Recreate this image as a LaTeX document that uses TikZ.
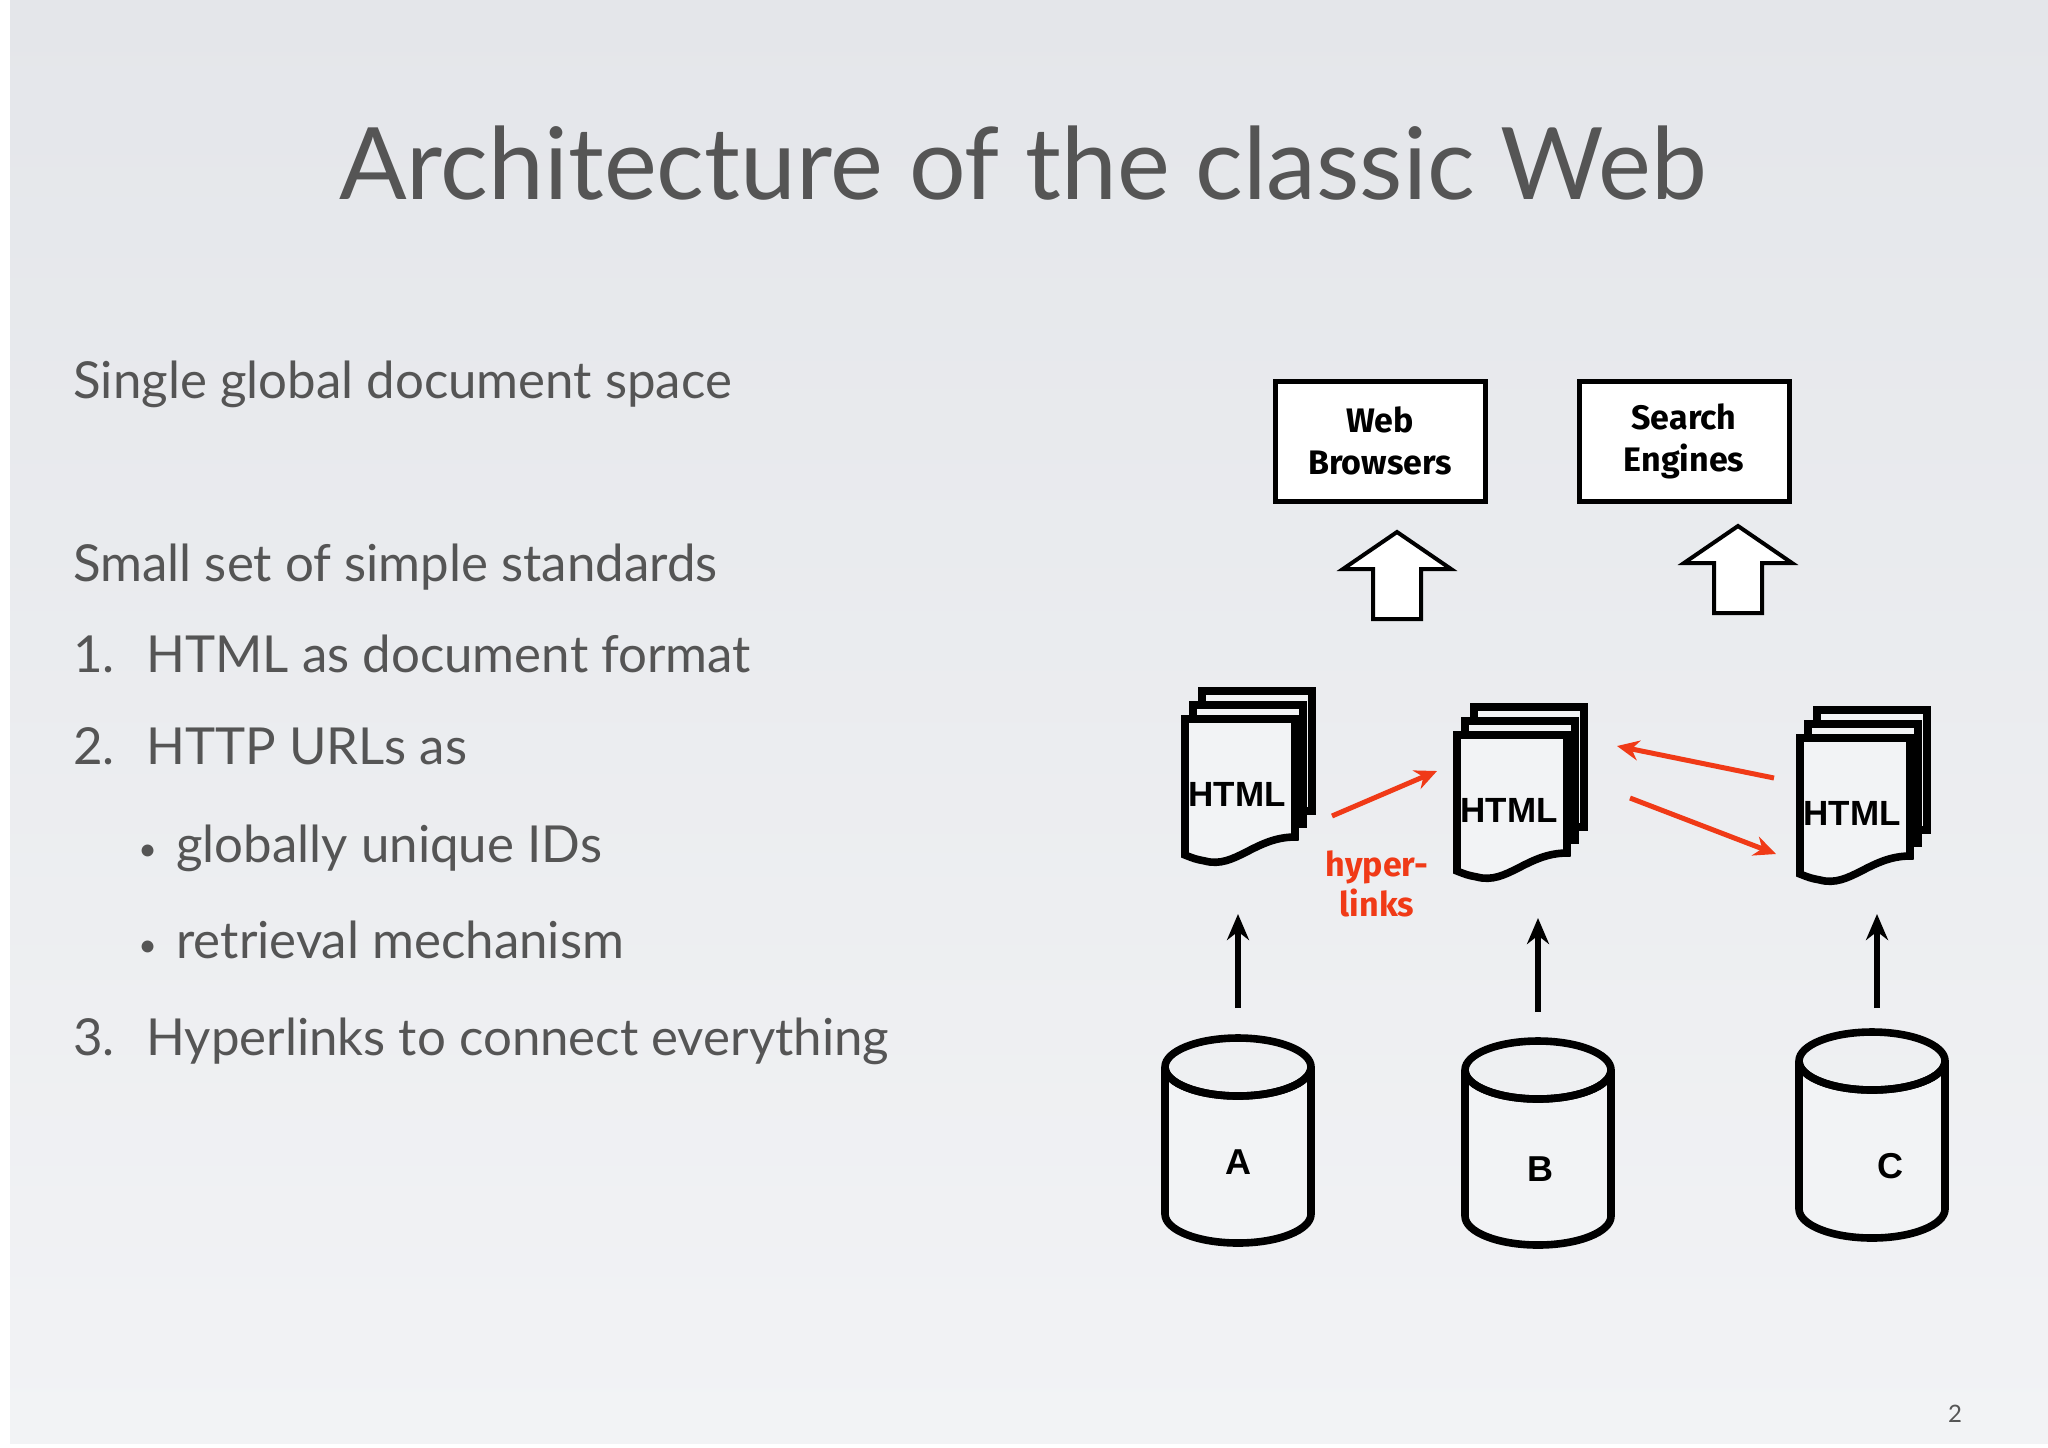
\documentclass[tikz,border=0pt]{standalone}
\usepackage{fontspec}
\setmainfont{Lato}
\newfontfamily\arialf{Liberation Sans}
\newfontfamily\boxf{Fira Sans}
\usetikzlibrary{shapes.geometric,arrows.meta}
\definecolor{bgA}{HTML}{E4E6EA}
\definecolor{bgB}{HTML}{F2F3F5}
\definecolor{txt}{HTML}{555555}
\definecolor{hl}{HTML}{F03A17}
\begin{document}
\begin{tikzpicture}[x=0.5pt,y=-0.5pt,
  body/.style={anchor=base west,text=txt,font=\fontsize{25.5}{28}\selectfont,inner sep=0},
  bul/.style={anchor=base west,text=txt,font=\fontsize{16}{28}\selectfont,inner sep=0},
  bx/.style={draw,line width=2.5pt,fill=white,minimum width=105pt,minimum height=60pt,align=center,font=\boxf\bfseries\fontsize{17}{21}\selectfont},
  page/.style={draw,line width=3.8pt,fill=bgB},
  cylp/.style={draw,line width=3.8pt,fill=bgB},
  blk/.style={-{Stealth[length=13pt,width=11pt]},line width=3pt},
  red/.style={-{Stealth[length=11pt,width=10pt]},line width=2.5pt,hl},
  barrow/.style={draw,line width=2pt,fill=white}]
\useasboundingbox (0,0) rectangle (2048,1447);
\fill[white] (0,0) rectangle (2048,1447);
\shade[top color=bgA,bottom color=bgB] (10,0) rectangle (2048,1443);
% title
\node[text=txt,font=\fontsize{50}{56}\selectfont] (title) at (1023,163) {Architecture of the classic Web};
% body
\node[body] (l1) at (73,398) {Single global document space};
\node[body] (l2) at (73,581) {Small set of simple standards};
\node[body] (n3) at (73,672) {1.};
\node[body] (l3) at (146,672) {HTML as document format};
\node[body] (n4) at (73,764) {2.};
\node[body] (l4) at (146,764) {HTTP URLs as};
\node[bul] (b5) at (138,860) {\textbullet};
\node[body] (l5) at (176,862) {globally unique IDs};
\node[bul] (b6) at (138,956) {\textbullet};
\node[body] (l6) at (176,958) {retrieval mechanism};
\node[body] (n7) at (73,1055) {3.};
\node[body] (l7) at (146,1055) {Hyperlinks to connect everything};
\node[text=txt,font=\fontsize{12}{14}\selectfont] (pg) at (1955,1414) {2};
% boxes
\node[bx] (wb) at (1380,441) {Web\\Browsers};
\node[bx] (se) at (1684,441) {Search\\Engines};
% block arrows
\foreach \cx/\ty in {1397/532,1738/526}{
  \draw[barrow] (\cx-24,\ty+87) -- (\cx-24,\ty+37) -- (\cx-54,\ty+37) -- (\cx,\ty) -- (\cx+54,\ty+37) -- (\cx+24,\ty+37) -- (\cx+24,\ty+87) -- cycle;
}
% docs
\foreach \x/\y/\n in {1185/719/d1,1457/735/d2,1800/738/d3}{
  \draw[page] (\x+17,\y-28) rectangle (\x+127,\y+92);
  \draw[page] (\x+8,\y-14) rectangle (\x+118,\y+105);
  \draw[page] (\x,\y) -- (\x+110,\y) -- (\x+110,\y+118)
     .. controls (\x+70,\y+118) and (\x+50,\y+150) .. (\x+20,\y+142)
     .. controls (\x+10,\y+140) .. (\x,\y+136) -- cycle;
  \node[anchor=west,inner sep=0,font=\arialf\bfseries\fontsize{17.5}{18}\selectfont] (\n) at (\x+3,\y+75) {HTML};
}
% cylinders
\foreach \cx/\t/\b in {1238/1038/1243,1538/1041/1245,1872/1032/1238}{
  \draw[cylp] (\cx-73,\t+29) -- (\cx-73,\b-29) arc[start angle=180,end angle=360,x radius=73,y radius=-29] -- (\cx+73,\t+29) arc[start angle=0,end angle=180,x radius=73,y radius=29] -- cycle;
  \draw[cylp,fill=none] (\cx,\t+29) ellipse[x radius=73,y radius=29];
}
\node[font=\arialf\bfseries\fontsize{18}{20}\selectfont] (A) at (1238,1162) {A};
\node[font=\arialf\bfseries\fontsize{18}{20}\selectfont] (B) at (1540,1169) {B};
\node[font=\arialf\bfseries\fontsize{18}{20}\selectfont] (C) at (1890,1166) {C};
% black arrows
\coordinate (a0) at (1238,1008); \coordinate (a1) at (1238,914);
\coordinate (b0) at (1538,1012); \coordinate (b1) at (1538,918);
\coordinate (c0) at (1877,1008); \coordinate (c1) at (1877,914);
\draw[blk] (a0) -- (a1);
\draw[blk] (b0) -- (b1);
\draw[blk] (c0) -- (c1);
% red arrows
\coordinate (r1a) at (1332,816); \coordinate (r1b) at (1437,771);
\coordinate (r2a) at (1774,778); \coordinate (r2b) at (1617,746);
\coordinate (r3a) at (1630,798); \coordinate (r3b) at (1776,854);
\draw[red] (r1a) -- (r1b);
\draw[red] (r2a) -- (r2b);
\draw[red] (r3a) -- (r3b);
\node[text=hl,align=center,font=\boxf\bfseries\fontsize{17}{20}\selectfont] (hyp) at (1377,884) {hyper-\\links};
\end{tikzpicture}
\end{document}
